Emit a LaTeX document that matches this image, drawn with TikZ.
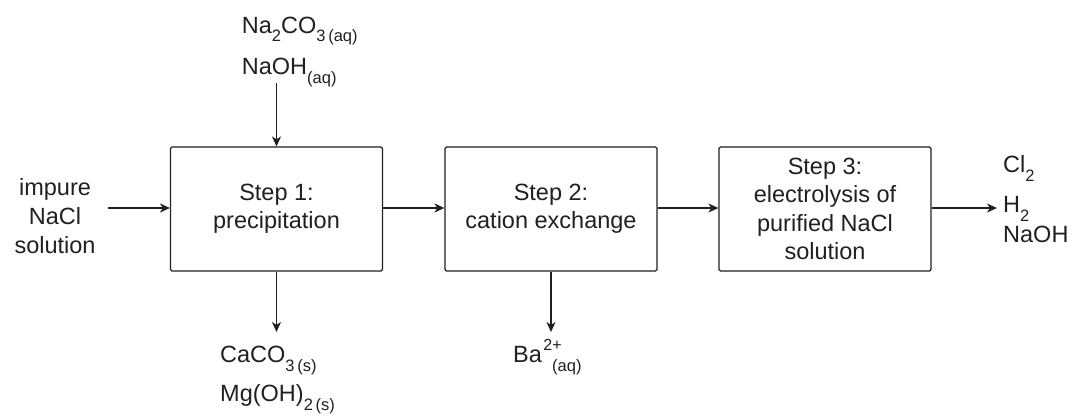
\documentclass[tikz,border=0pt]{standalone}
\usepackage{fontspec}
\setmainfont{Liberation Sans}
\usetikzlibrary{arrows.meta}
\definecolor{ink}{HTML}{231F20}
% chemical subscripts and charges
\newcommand\chsub[1]{\raisebox{-9pt}{\fontsize{16.5}{16.5}\selectfont #1}}
\newcommand\chsup[1]{\raisebox{11.5pt}{\fontsize{16}{16}\selectfont #1}}

\begin{document}
\begin{tikzpicture}[x=1pt,y=-1pt,
  every node/.style={text=ink, font=\fontsize{23.5}{28.3}\selectfont},
  stepbox/.style={draw=ink, line width=1.2pt, rounded corners=1.5pt,
    minimum width=212pt, minimum height=124pt, inner sep=0pt, align=center},
  lbl/.style={anchor=base west, inner sep=0pt},
  clbl/.style={anchor=base, inner sep=0pt},
  flow/.style={draw=ink, line width=1.2pt,
    -{Stealth[length=10pt,width=9pt,inset=3pt]}}]
\useasboundingbox (0,0) rectangle (1073,415);

% process steps
\node[stepbox] (s1) at (276.5,209) {Step 1:\\precipitation};
\node[stepbox] (s2) at (551,209) {Step 2:\\cation exchange};
\node[stepbox] (s3) at (825,209) {Step 3:\\electrolysis of\\purified NaCl\\solution};

% feed
\node[clbl] (in1) at (55,195) {impure};
\node[clbl] (in2) at (55,224) {NaCl};
\node[clbl] (in3) at (55,253) {solution};

% reagents
\node[lbl] (r1) at (241.7,33) {Na\chsub{2}CO\chsub{3\,(aq)}};
\node[lbl] (r2) at (241.7,74) {NaOH\chsub{(aq)}};

% removed species
\node[lbl] (p1) at (220,362) {CaCO\chsub{3\,(s)}};
\node[lbl] (p2) at (220,401.5) {Mg(OH)\chsub{2\,(s)}};
\node[lbl] (b1) at (513,362) {Ba\hspace{1.5pt}\chsup{2+}\hspace{-9.5pt}\chsub{(aq)}};

% products
\node[lbl] (o1) at (1003,172) {Cl\chsub{2}};
\node[lbl] (o2) at (1003,212) {H\chsub{2}};
\node[lbl] (o3) at (1003,242) {NaOH};

% free arrow ends
\coordinate (inS) at (108,208);
\coordinate (topS) at (276.5,83);
\coordinate (d1) at (276.5,332);
\coordinate (d2) at (551,332);
\coordinate (outE) at (997,208);

% connectors
\draw[flow] (inS) -- (s1.west |- inS);
\draw[flow] (topS) -- (s1.north);
\draw[flow] (s1.south) -- (d1);
\draw[flow] (s1.east |- inS) -- (s2.west |- inS);
\draw[flow] (s2.east |- inS) -- (s3.west |- inS);
\draw[flow] (s2.south) -- (d2);
\draw[flow] (s3.east |- inS) -- (outE);
\end{tikzpicture}
\end{document}
